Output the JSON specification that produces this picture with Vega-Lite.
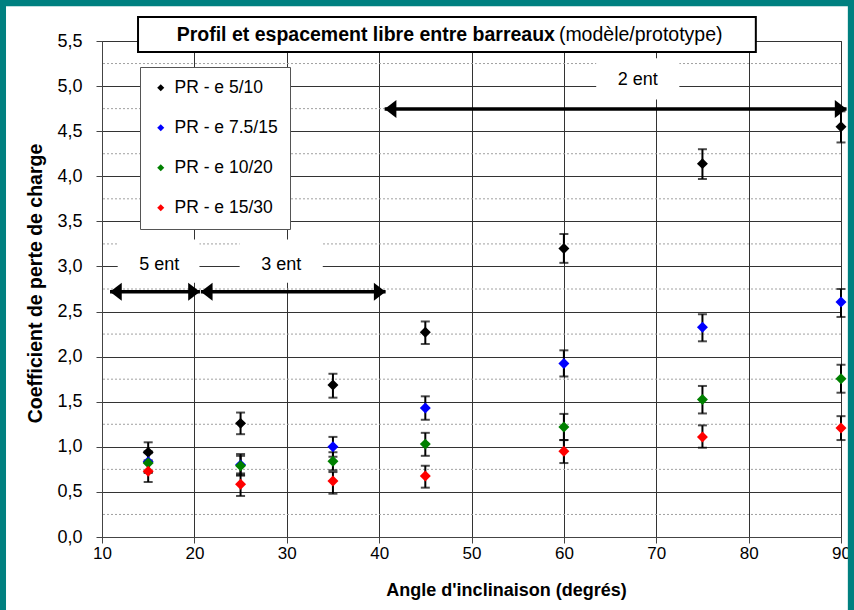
{
  "$schema": "https://vega.github.io/schema/vega-lite/v6.json",
  "width": 739,
  "height": 496,
  "autosize": {"type": "none"},
  "padding": {"left": 102, "top": 41, "right": 13, "bottom": 73},
  "background": "white",
  "config": {
    "view": {"stroke": "#333", "strokeWidth": 1},
    "font": "Liberation Sans"
  },
  "datasets": {
    "points": [
      {"angle": 15, "serie": "PR - e 5/10", "k": 0.94, "lo": 0.83, "hi": 1.05},
      {"angle": 25, "serie": "PR - e 5/10", "k": 1.26, "lo": 1.14, "hi": 1.38},
      {"angle": 35, "serie": "PR - e 5/10", "k": 1.685, "lo": 1.545, "hi": 1.81},
      {"angle": 45, "serie": "PR - e 5/10", "k": 2.27, "lo": 2.14, "hi": 2.39},
      {"angle": 60, "serie": "PR - e 5/10", "k": 3.2, "lo": 3.04, "hi": 3.36},
      {"angle": 75, "serie": "PR - e 5/10", "k": 4.14, "lo": 3.97, "hi": 4.3},
      {"angle": 90, "serie": "PR - e 5/10", "k": 4.55, "lo": 4.375, "hi": 4.72},
      {"angle": 15, "serie": "PR - e 7.5/15", "k": 0.835, "lo": 0.72, "hi": 0.95},
      {"angle": 25, "serie": "PR - e 7.5/15", "k": 0.8, "lo": 0.69, "hi": 0.92},
      {"angle": 35, "serie": "PR - e 7.5/15", "k": 1.0, "lo": 0.89, "hi": 1.11},
      {"angle": 45, "serie": "PR - e 7.5/15", "k": 1.43, "lo": 1.3, "hi": 1.56},
      {"angle": 60, "serie": "PR - e 7.5/15", "k": 1.925, "lo": 1.78, "hi": 2.07},
      {"angle": 75, "serie": "PR - e 7.5/15", "k": 2.325, "lo": 2.17, "hi": 2.47},
      {"angle": 90, "serie": "PR - e 7.5/15", "k": 2.605, "lo": 2.44, "hi": 2.75},
      {"angle": 15, "serie": "PR - e 10/20", "k": 0.82, "lo": 0.71, "hi": 0.93},
      {"angle": 25, "serie": "PR - e 10/20", "k": 0.79, "lo": 0.68, "hi": 0.9},
      {"angle": 35, "serie": "PR - e 10/20", "k": 0.84, "lo": 0.74, "hi": 0.94},
      {"angle": 45, "serie": "PR - e 10/20", "k": 1.03, "lo": 0.9, "hi": 1.155},
      {"angle": 60, "serie": "PR - e 10/20", "k": 1.22, "lo": 1.075, "hi": 1.365},
      {"angle": 75, "serie": "PR - e 10/20", "k": 1.525, "lo": 1.37, "hi": 1.675},
      {"angle": 90, "serie": "PR - e 10/20", "k": 1.755, "lo": 1.6, "hi": 1.91},
      {"angle": 15, "serie": "PR - e 15/30", "k": 0.73, "lo": 0.61, "hi": 0.85},
      {"angle": 25, "serie": "PR - e 15/30", "k": 0.585, "lo": 0.455, "hi": 0.705},
      {"angle": 35, "serie": "PR - e 15/30", "k": 0.62, "lo": 0.48, "hi": 0.72},
      {"angle": 45, "serie": "PR - e 15/30", "k": 0.676, "lo": 0.547, "hi": 0.79},
      {"angle": 60, "serie": "PR - e 15/30", "k": 0.95, "lo": 0.82, "hi": 1.075},
      {"angle": 75, "serie": "PR - e 15/30", "k": 1.11, "lo": 0.99, "hi": 1.238},
      {"angle": 90, "serie": "PR - e 15/30", "k": 1.208, "lo": 1.075, "hi": 1.34}
    ],
    "minorgrid": [
      {"y": 0.25}, {"y": 0.75}, {"y": 1.25}, {"y": 1.75}, {"y": 2.25}, {"y": 2.75},
      {"y": 3.25}, {"y": 3.75}, {"y": 4.25}, {"y": 4.75}, {"y": 5.25}
    ],
    "arrows": [
      {"x1": 10.87, "x2": 20.6, "y": 2.72},
      {"x1": 20.7, "x2": 40.7, "y": 2.72},
      {"x1": 40.6, "x2": 90.6, "y": 4.745}
    ],
    "labels": [
      {"text": "5 ent", "x": 16.2, "y": 3.015, "bx1": 11.7, "bx2": 20.55, "by1": 2.82, "by2": 3.3},
      {"text": "3 ent", "x": 29.4, "y": 3.015, "bx1": 24.9, "bx2": 33.9, "by1": 2.82, "by2": 3.3},
      {"text": "2 ent", "x": 68.0, "y": 5.067, "bx1": 63.5, "bx2": 72.5, "by1": 4.85, "by2": 5.31}
    ],
    "frame": [
      {"x1": -1.04, "x2": 91.39, "y1": 5.953, "y2": -0.9}
    ],
    "titlebox": [
      {"x1": 13.9, "x2": 80.78, "y1": 5.765, "y2": 5.377, "xm": 59.03, "xn": 59.46, "ym": 5.571,
       "bold": "Profil et espacement libre entre barreaux", "normal": "(modèle/prototype)"}
    ]
  },
  "layer": [
    {
      "data": {"name": "frame"},
      "mark": {"type": "rect", "fill": null, "stroke": "#008080", "strokeWidth": 12},
      "encoding": {
        "x": {"field": "x1", "type": "quantitative", "scale": {"domain": [10, 90], "nice": false, "zero": false}},
        "x2": {"field": "x2"},
        "y": {"field": "y1", "type": "quantitative", "scale": {"domain": [0, 5.5], "nice": false, "zero": false}},
        "y2": {"field": "y2"}
      }
    },
    {
      "data": {"name": "minorgrid"},
      "mark": {"type": "rule", "color": "#a0a0a0", "strokeWidth": 1, "strokeDash": [2, 2]},
      "encoding": {
        "y": {"field": "y", "type": "quantitative", "scale": {"domain": [0, 5.5], "nice": false, "zero": false}}
      }
    },
    {
      "data": {"name": "labels"},
      "mark": {"type": "rect", "fill": "white", "stroke": null},
      "encoding": {
        "x": {"field": "bx1", "type": "quantitative", "scale": {"domain": [10, 90], "nice": false, "zero": false}},
        "x2": {"field": "bx2"},
        "y": {"field": "by1", "type": "quantitative", "scale": {"domain": [0, 5.5], "nice": false, "zero": false}},
        "y2": {"field": "by2"}
      }
    },
    {
      "data": {"name": "titlebox"},
      "mark": {"type": "rect", "fill": "white", "stroke": "black", "strokeWidth": 2},
      "encoding": {
        "x": {"field": "x1", "type": "quantitative", "scale": {"domain": [10, 90], "nice": false, "zero": false}},
        "x2": {"field": "x2"},
        "y": {"field": "y1", "type": "quantitative", "scale": {"domain": [0, 5.5], "nice": false, "zero": false}},
        "y2": {"field": "y2"}
      }
    },
    {
      "data": {"name": "titlebox"},
      "mark": {"type": "text", "align": "right", "baseline": "middle", "fontSize": 19.5, "fontWeight": "bold", "font": "Liberation Sans", "color": "black"},
      "encoding": {
        "x": {"field": "xm", "type": "quantitative", "scale": {"domain": [10, 90], "nice": false, "zero": false}},
        "y": {"field": "ym", "type": "quantitative", "scale": {"domain": [0, 5.5], "nice": false, "zero": false}},
        "text": {"field": "bold"}
      }
    },
    {
      "data": {"name": "titlebox"},
      "mark": {"type": "text", "align": "left", "baseline": "middle", "fontSize": 19.5, "font": "Liberation Sans", "color": "black"},
      "encoding": {
        "x": {"field": "xn", "type": "quantitative", "scale": {"domain": [10, 90], "nice": false, "zero": false}},
        "y": {"field": "ym", "type": "quantitative", "scale": {"domain": [0, 5.5], "nice": false, "zero": false}},
        "text": {"field": "normal"}
      }
    },
    {
      "data": {"name": "arrows"},
      "mark": {"type": "rule", "color": "black", "strokeWidth": 3.5},
      "encoding": {
        "x": {"field": "x1", "type": "quantitative", "scale": {"domain": [10, 90], "nice": false, "zero": false}},
        "x2": {"field": "x2"},
        "y": {"field": "y", "type": "quantitative", "scale": {"domain": [0, 5.5], "nice": false, "zero": false}}
      }
    },
    {
      "data": {"name": "arrows"},
      "mark": {"type": "point", "shape": "M0,0L1.3,-1L1.3,1Z", "filled": true, "color": "black", "opacity": 1, "size": 324},
      "encoding": {
        "x": {"field": "x1", "type": "quantitative", "scale": {"domain": [10, 90], "nice": false, "zero": false}},
        "y": {"field": "y", "type": "quantitative", "scale": {"domain": [0, 5.5], "nice": false, "zero": false}}
      }
    },
    {
      "data": {"name": "arrows"},
      "mark": {"type": "point", "shape": "M0,0L-1.3,-1L-1.3,1Z", "filled": true, "color": "black", "opacity": 1, "size": 324},
      "encoding": {
        "x": {"field": "x2", "type": "quantitative", "scale": {"domain": [10, 90], "nice": false, "zero": false}},
        "y": {"field": "y", "type": "quantitative", "scale": {"domain": [0, 5.5], "nice": false, "zero": false}}
      }
    },
    {
      "data": {"name": "labels"},
      "mark": {"type": "text", "align": "center", "baseline": "middle", "fontSize": 18, "font": "Liberation Sans", "color": "black"},
      "encoding": {
        "x": {"field": "x", "type": "quantitative", "scale": {"domain": [10, 90], "nice": false, "zero": false}},
        "y": {"field": "y", "type": "quantitative", "scale": {"domain": [0, 5.5], "nice": false, "zero": false}},
        "text": {"field": "text"}
      }
    },
    {
      "data": {"name": "points"},
      "mark": {"type": "errorbar", "color": "black", "ticks": {"size": 9, "thickness": 2, "color": "black"}, "rule": {"strokeWidth": 2, "color": "black"}},
      "encoding": {
        "x": {"field": "angle", "type": "quantitative", "title": "Angle d'inclinaison (degrés)", "scale": {"domain": [10, 90], "nice": false, "zero": false}},
        "y": {"field": "lo", "type": "quantitative", "title": "Coefficient de perte de charge", "scale": {"domain": [0, 5.5], "nice": false, "zero": false}},
        "y2": {"field": "hi"}
      }
    },
    {
      "data": {"name": "points"},
      "mark": {"type": "point", "shape": "diamond", "filled": true, "opacity": 1, "size": 120},
      "encoding": {
        "x": {
          "field": "angle", "type": "quantitative",
          "scale": {"domain": [10, 90], "nice": false, "zero": false},
          "axis": {
            "values": [10, 20, 30, 40, 50, 60, 70, 80, 90],
            "title": "Angle d'inclinaison (degrés)",
            "format": "d",
            "grid": true, "gridColor": "#333", "gridWidth": 1,
            "tickSize": 6, "tickColor": "#444", "domainColor": "#444",
            "labelFont": "Liberation Sans", "labelFontSize": 17, "labelPadding": 2, "labelColor": "black",
            "labelFlush": false, "labelBound": false, "labelOverlap": false,
            "titleFont": "Liberation Sans", "titleFontSize": 18, "titleFontWeight": "bold", "titleColor": "black",
            "titleX": 404, "titleY": 53, "titleBaseline": "middle", "titleAlign": "center"
          }
        },
        "y": {
          "field": "k", "type": "quantitative",
          "scale": {"domain": [0, 5.5], "nice": false, "zero": false},
          "axis": {
            "values": [0, 0.5, 1, 1.5, 2, 2.5, 3, 3.5, 4, 4.5, 5, 5.5],
            "labelExpr": "replace(format(datum.value, '.1f'), '.', ',')",
            "grid": true, "gridColor": "#333", "gridWidth": 1,
            "tickSize": 6, "tickColor": "#444", "domainColor": "#444",
            "labelFont": "Liberation Sans", "labelFontSize": 18, "labelPadding": 14, "labelColor": "black",
            "labelOverlap": false, "labelFlush": false, "labelBound": false,
            "title": "Coefficient de perte de charge",
            "titleFont": "Liberation Sans", "titleFontSize": 19.5, "titleFontWeight": "bold", "titleColor": "black",
            "titleX": -67, "titleY": 242, "titleBaseline": "middle", "titleAlign": "center", "titleAngle": -90
          }
        },
        "color": {
          "field": "serie", "type": "nominal",
          "scale": {"domain": ["PR - e 5/10", "PR - e 7.5/15", "PR - e 10/20", "PR - e 15/30"], "range": ["#000000", "#0000ff", "#008000", "#ff0000"]},
          "legend": {
            "title": null, "orient": "none", "legendX": 38, "legendY": 26,
            "strokeColor": "#555", "fillColor": "white", "padding": 12,
            "rowPadding": 21, "labelFontSize": 17.5, "labelFont": "Liberation Sans",
            "labelColor": "black", "symbolSize": 50, "labelOffset": 5, "symbolOffset": 0,
            "symbolType": "diamond"
          }
        }
      }
    }
  ]
}
